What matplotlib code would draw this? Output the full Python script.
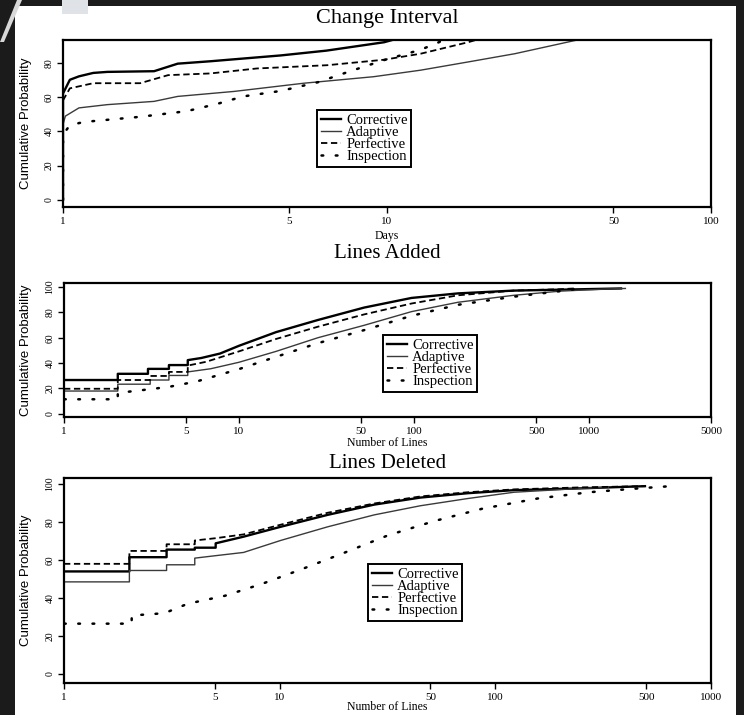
import matplotlib
matplotlib.use("Agg")
import matplotlib.pyplot as plt
from matplotlib.patches import Rectangle, Polygon

W, H = 744, 715
SERIF = ["Liberation Serif", "DejaVu Serif"]
NARROW = ["Liberation Sans", "DejaVu Sans"]

series_names = ["Corrective", "Adaptive", "Perfective", "Inspection"]

# Change Interval (days, cumulative %)
ci_corr_x = [1, 1, 1.05, 1.12, 1.24, 1.37, 1.91, 2.26, 2.85, 4.7, 6.5, 9.8, 14]
ci_corr_y = [0, 62, 70, 72, 74, 74.6, 75, 79.4, 80.8, 84.2, 87, 91.9, 100]
ci_adap_x = [1, 1, 1.017, 1.12, 1.37, 1.91, 2.26, 3.37, 5.54, 9.1, 12.7, 17.8, 24.8, 38, 60]
ci_adap_y = [0, 44, 48.8, 53.6, 55.5, 57.4, 60.3, 63.2, 68, 71.8, 75.6, 80.4, 85.2, 92.9, 100]
ci_perf_x = [1, 1, 1.05, 1.24, 1.73, 2.11, 2.85, 3.97, 6.54, 9.8, 12.7, 17.8, 25]
ci_perf_y = [0, 58, 65, 68, 68, 72.7, 73.7, 76.6, 78.5, 81.7, 85.2, 91.9, 100]
ci_insp_x = [1, 1, 1.05, 1.16, 1.73, 2.41, 3.0, 3.6, 4.7, 6.1, 7.7, 9.8, 12.7, 14.5, 17]
ci_insp_y = [0, 38, 43.5, 45.4, 48.4, 51.7, 56, 60.3, 63.5, 68.5, 75, 81.5, 87.5, 92, 100]

# Lines Added
la_corr_x = [1, 2.03, 2.03, 3.02, 3.02, 3.98, 3.98, 5.1, 5.1, 6.1, 7.8, 10, 16.3, 28.3, 52, 97, 179, 372, 935, 1530]
la_corr_y = [26.6, 26.6, 31.5, 31.5, 35.4, 35.4, 38.4, 38.4, 42.3, 44, 47.5, 53.6, 64.4, 74, 83.8, 91.4, 95, 97.2, 98.3, 98.9]
la_adap_x = [1, 2.03, 2.03, 3.11, 3.11, 3.98, 3.98, 5.1, 5.1, 6.9, 10, 16.3, 28.3, 52, 97, 179, 373, 690, 1280, 1620]
la_adap_y = [17.9, 17.9, 23.3, 23.3, 26.6, 26.6, 30.2, 30.2, 33, 35.5, 40.6, 49.2, 60, 69.8, 80.6, 88, 93.5, 96.8, 98.5, 98.9]
la_perf_x = [1, 2.03, 2.03, 3.11, 3.11, 3.98, 3.98, 5.1, 5.1, 6.5, 10, 16.3, 28.3, 52, 97, 179, 373, 690, 830]
la_perf_y = [19.7, 19.7, 26.6, 26.6, 29.8, 29.8, 33, 33, 38, 41, 49.2, 59, 68.7, 78.4, 87, 93.5, 97.2, 98.3, 98.9]
la_insp_x = [1, 2.03, 2.03, 2.75, 3.98, 5.75, 10, 16.3, 28.3, 52, 97, 179, 373, 690, 830]
la_insp_y = [11.4, 11.4, 16.4, 18.5, 21.2, 25.5, 35.2, 44.9, 55.7, 66, 77.3, 86, 92.4, 96.8, 98.3]

# Lines Deleted
ld_corr_x = [1, 2.01, 2.01, 2.99, 2.99, 4.04, 4.04, 5.05, 5.05, 6.8, 10.1, 16.7, 27.5, 45, 74.6, 122, 258, 494]
ld_corr_y = [54, 54, 61.5, 61.5, 65.5, 65.5, 66.5, 66.5, 68.8, 72.3, 77.5, 83.8, 89.2, 92.9, 95.2, 96.8, 97.8, 98.9]
ld_adap_x = [1, 2.01, 2.01, 2.99, 2.99, 4.04, 4.04, 5.05, 6.8, 10.1, 16.7, 27.5, 45, 74.6, 122, 258, 334]
ld_adap_y = [48.5, 48.5, 54.5, 54.5, 57.5, 57.5, 61, 62.3, 64, 70.3, 77.5, 83.8, 88.6, 92.4, 95.7, 97.8, 98.3]
ld_perf_x = [1, 2.01, 2.01, 2.99, 2.99, 4.04, 4.04, 5.05, 6.8, 10.1, 16.7, 27.5, 45, 74.6, 122, 258, 494]
ld_perf_y = [58, 58, 64.8, 64.8, 68.3, 68.3, 70.3, 71.5, 73.5, 78.6, 84.9, 89.8, 93.5, 95.7, 97.2, 98.3, 98.9]
ld_insp_x = [1, 2.06, 2.06, 2.92, 3.75, 5.58, 8.3, 12.4, 19.4, 31.8, 52.4, 86.8, 157, 272, 470, 650]
ld_insp_y = [26.5, 26.5, 30.8, 32, 37, 41.2, 47.5, 54.8, 63.3, 73, 80.6, 87, 92.4, 95.7, 97.8, 98.9]

ci_ticks = [1, 5, 10, 50, 100]
la_ticks = [1, 5, 10, 50, 100, 500, 1000, 5000]
ld_ticks = [1, 5, 10, 50, 100, 500, 1000]

styles = [
    dict(color="black", lw=1.7, ls="-"),
    dict(color="#3a3a3a", lw=1.0, ls="-"),
    dict(color="black", lw=1.3, ls=(0, (3.5, 2))),
    dict(color="black", lw=1.8, ls=(0, (0.7, 5)), dash_capstyle="round"),
]

fig = plt.figure(figsize=(W / 100, H / 100), dpi=100)
fig.patch.set_facecolor("#1b1b1b")
# scanned page
fig.patches.append(Rectangle((15 / W, 0), (736 - 15) / W, 1 - 6 / H, transform=fig.transFigure,
                             facecolor="white", edgecolor="none", zorder=-10))
fig.patches.append(Polygon([(0, 1 - 42 / H), (4 / W, 1 - 42 / H), (22 / W, 1), (17 / W, 1)],
                           closed=True, transform=fig.transFigure, facecolor="#d8d8d8",
                           edgecolor="none", zorder=-10))
fig.patches.append(Rectangle((62 / W, 1 - 14 / H), 26 / W, 14 / H, transform=fig.transFigure,
                             facecolor="#dfe3e8", edgecolor="none", zorder=-10))


def panel(left, top, right, bottom, xs, ys, xmax, ticks, ylim, yticks, title, title_y,
          xlabel, xlabel_y, leg, title_size=15):
    ax = fig.add_axes([left / W, 1 - bottom / H, (right - left) / W, (bottom - top) / H])
    for x, y, st, name in zip(xs, ys, styles, series_names):
        ax.plot(x, y, label=name, **st)
    ax.set_xscale("log")
    ax.set_xlim(1, xmax)
    ax.set_ylim(*ylim)
    ax.set_xticks(ticks)
    ax.set_xticklabels([str(t) for t in ticks], family=SERIF, fontsize=8)
    ax.minorticks_off()
    ax.set_yticks(yticks)
    ax.set_yticklabels([str(t) for t in yticks], family=SERIF, fontsize=7, rotation=90, va="center")
    ax.tick_params(direction="out", length=4, width=1, pad=3)
    for s in ax.spines.values():
        s.set_linewidth(1.6)
    ax.set_ylabel("Cumulative Probability", family=NARROW, fontsize=9.5)
    ax.yaxis.set_label_coords((32 - left) / (right - left), 0.5)
    fig.text((left + right) / 2 / W, 1 - title_y / H, title, family=SERIF, fontsize=title_size,
             ha="center", va="center")
    fig.text((left + right) / 2 / W, 1 - xlabel_y / H, xlabel, family=SERIF, fontsize=8.5,
             ha="center", va="center")
    lg = ax.legend(loc="upper left", bbox_to_anchor=leg, prop=dict(family=SERIF, size=10.5),
                   fancybox=False, framealpha=1, edgecolor="black", labelspacing=-0.08,
                   handlelength=1.4, handletextpad=0.35, borderpad=0.25, borderaxespad=0)
    lg.get_frame().set_linewidth(1.4)
    return ax


panel(63, 40, 711, 207, [ci_corr_x, ci_adap_x, ci_perf_x, ci_insp_x],
      [ci_corr_y, ci_adap_y, ci_perf_y, ci_insp_y], 100, ci_ticks, (-4.2, 93.2),
      [0, 20, 40, 60, 80], "Change Interval", 18, "Days", 236, (0.392, 0.58), 16)

panel(64, 283, 711, 417, [la_corr_x, la_adap_x, la_perf_x, la_insp_x],
      [la_corr_y, la_adap_y, la_perf_y, la_insp_y], 5000, la_ticks, (-2.6, 103.2),
      [0, 20, 40, 60, 80, 100], "Lines Added", 253, "Number of Lines", 443, (0.493, 0.61))

panel(64, 478, 711, 683, [ld_corr_x, ld_adap_x, ld_perf_x, ld_insp_x],
      [ld_corr_y, ld_adap_y, ld_perf_y, ld_insp_y], 1000, ld_ticks, (-4.75, 103.2),
      [0, 20, 40, 60, 80, 100], "Lines Deleted", 463, "Number of Lines", 707, (0.47, 0.58))

fig.savefig("out.png", dpi=100, facecolor=fig.get_facecolor())
